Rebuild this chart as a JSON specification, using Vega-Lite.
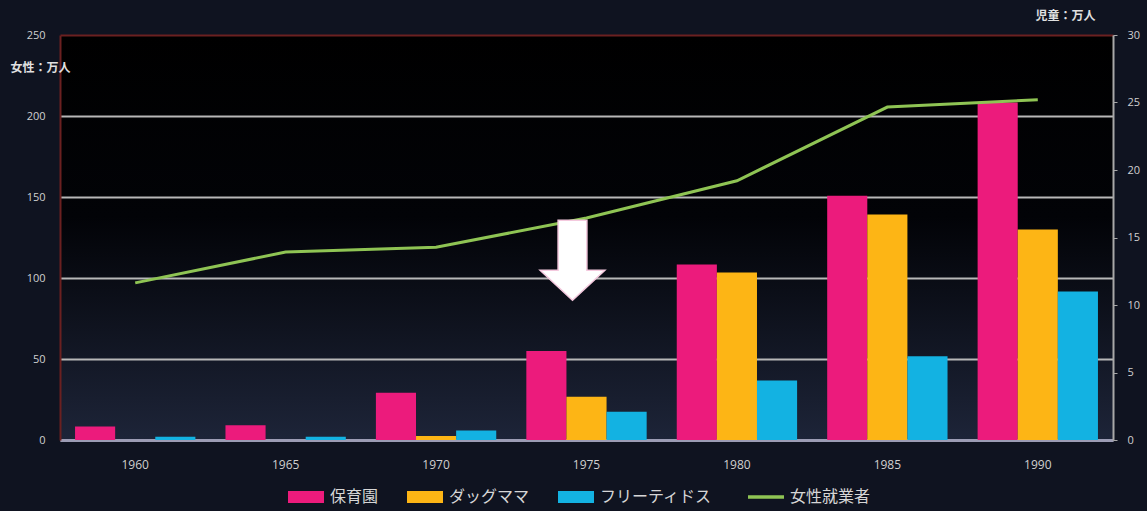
{
  "$schema": "https://vega.github.io/schema/vega-lite/v6.json",
  "width": 1053,
  "height": 405,
  "autosize": {"type": "none"},
  "padding": {"left": 60, "top": 35, "right": 34, "bottom": 71},
  "background": "#0f1320",
  "datasets": {
    "bars": [
      {"year": "1960", "series": "保育園", "value": 1.0},
      {"year": "1965", "series": "保育園", "value": 1.1},
      {"year": "1970", "series": "保育園", "value": 3.5},
      {"year": "1975", "series": "保育園", "value": 6.6},
      {"year": "1980", "series": "保育園", "value": 13.0},
      {"year": "1985", "series": "保育園", "value": 18.1},
      {"year": "1990", "series": "保育園", "value": 25.0},
      {"year": "1960", "series": "ダッグママ", "value": 0},
      {"year": "1965", "series": "ダッグママ", "value": 0},
      {"year": "1970", "series": "ダッグママ", "value": 0.3},
      {"year": "1975", "series": "ダッグママ", "value": 3.2},
      {"year": "1980", "series": "ダッグママ", "value": 12.4},
      {"year": "1985", "series": "ダッグママ", "value": 16.7},
      {"year": "1990", "series": "ダッグママ", "value": 15.6},
      {"year": "1960", "series": "フリーティドス", "value": 0.25},
      {"year": "1965", "series": "フリーティドス", "value": 0.25},
      {"year": "1970", "series": "フリーティドス", "value": 0.7},
      {"year": "1975", "series": "フリーティドス", "value": 2.1},
      {"year": "1980", "series": "フリーティドス", "value": 4.4},
      {"year": "1985", "series": "フリーティドス", "value": 6.2},
      {"year": "1990", "series": "フリーティドス", "value": 11.0}
    ],
    "women": [
      {"year": "1960", "series": "女性就業者", "value": 97},
      {"year": "1965", "series": "女性就業者", "value": 116},
      {"year": "1970", "series": "女性就業者", "value": 119},
      {"year": "1975", "series": "女性就業者", "value": 137},
      {"year": "1980", "series": "女性就業者", "value": 160},
      {"year": "1985", "series": "女性就業者", "value": 205.5},
      {"year": "1990", "series": "女性就業者", "value": 210}
    ],
    "marker": [
      {"year": "1975", "level": 111}
    ]
  },
  "layer": [
    {
      "data": {"name": "bars"},
      "mark": {"type": "bar"},
      "encoding": {
        "x": {
          "field": "year",
          "type": "ordinal",
          "scale": {"paddingInner": 0.2, "paddingOuter": 0.1},
          "axis": {
            "title": null,
            "labelAngle": 0,
            "domainColor": "#9c9cb4",
            "domainWidth": 3,
            "ticks": false,
            "labelPadding": 19,
            "labelColor": "#cfcfcf",
            "labelFontSize": 12,
            "labelFont": "Open Sans"
          }
        },
        "xOffset": {
          "field": "series",
          "type": "nominal",
          "sort": ["保育園", "ダッグママ", "フリーティドス"],
          "scale": {"paddingInner": 0, "paddingOuter": 0}
        },
        "y": {
          "field": "value",
          "type": "quantitative",
          "scale": {"domain": [0, 30], "nice": false},
          "axis": {
            "orient": "right",
            "values": [0, 5, 10, 15, 20, 25, 30],
            "grid": false,
            "domainColor": "#a8a8a8",
            "domainWidth": 2,
            "ticks": true,
            "tickColor": "#a8a8a8",
            "tickSize": 4,
            "labelPadding": 10,
            "labelColor": "#d0d0d0",
            "labelFontSize": 11,
            "labelFont": "Open Sans",
            "title": "児童：万人",
            "titleAngle": 0,
            "titleAlign": "right",
            "titleBaseline": "middle",
            "titleX": -18,
            "titleY": -20,
            "titleColor": "#e0e0e0",
            "titleFont": "Noto Sans CJK JP",
            "titleFontSize": 12,
            "titleFontWeight": "bold"
          }
        },
        "color": {
          "field": "series",
          "type": "nominal",
          "scale": {
            "domain": ["保育園", "ダッグママ", "フリーティドス", "女性就業者"],
            "range": ["#ec1b7c", "#fdb515", "#13b2e2", "#8fc454"]
          },
          "legend": {
            "orient": "none",
            "legendX": 238,
            "legendY": 454,
            "direction": "horizontal",
            "title": null,
            "padding": 0,
            "symbolType": "M-1,-0.33L1,-0.33L1,0.33L-1,0.33Z",
            "symbolSize": 1296,
            "symbolStrokeWidth": 0,
            "labelFont": "Noto Sans CJK JP",
            "labelFontSize": 16,
            "labelColor": "#d6d6d6",
            "labelOffset": 16,
            "columnPadding": 28,
            "encode": {
              "symbols": {
                "update": {
                  "shape": {"signal": "datum.value === '女性就業者' ? 'M-1,0L1,0' : 'M-1,-0.33L1,-0.33L1,0.33L-1,0.33Z'"},
                  "fill": {"signal": "datum.value === '女性就業者' ? 'transparent' : scale('color', datum.value)"},
                  "stroke": {"signal": "scale('color', datum.value)"},
                  "strokeWidth": {"signal": "datum.value === '女性就業者' ? 3.5 : 0"},
                  "opacity": {"value": 1}
                }
              }
            }
          }
        }
      }
    },
    {
      "data": {"name": "women"},
      "mark": {"type": "line", "strokeWidth": 3},
      "encoding": {
        "x": {"field": "year", "type": "ordinal"},
        "y": {
          "field": "value",
          "type": "quantitative",
          "scale": {"domain": [0, 250], "nice": false},
          "axis": {
            "orient": "left",
            "values": [0, 50, 100, 150, 200, 250],
            "grid": true,
            "gridColor": {"condition": {"test": "datum.value === 250", "value": "#6b2020"}, "value": "#b8b8b8"},
            "gridWidth": 2,
            "domainColor": "#6b2020",
            "domainWidth": 2,
            "ticks": false,
            "labelPadding": 15,
            "labelColor": "#d0d0d0",
            "labelFontSize": 11,
            "labelFont": "Open Sans",
            "title": "女性：万人",
            "titleAngle": 0,
            "titleAlign": "left",
            "titleBaseline": "middle",
            "titleX": -50,
            "titleY": 32,
            "titleColor": "#e0e0e0",
            "titleFont": "Noto Sans CJK JP",
            "titleFontSize": 12,
            "titleFontWeight": "bold"
          }
        },
        "color": {"field": "series", "type": "nominal"}
      }
    },
    {
      "data": {"name": "marker"},
      "mark": {
        "type": "point",
        "shape": "M-0.36,-1L0.36,-1L0.36,0.25L0.81,0.25L0,1L-0.81,0.25L-0.36,0.25Z",
        "filled": true,
        "fill": "#ffffff",
        "opacity": 1,
        "size": 6400,
        "xOffset": -14,
        "stroke": "#f4c9de",
        "strokeWidth": 1.5
      },
      "encoding": {
        "x": {"field": "year", "type": "ordinal"},
        "y": {
          "field": "level",
          "type": "quantitative",
          "scale": {"domain": [0, 250], "nice": false},
          "axis": null
        }
      }
    }
  ],
  "resolve": {"scale": {"y": "independent"}},
  "config": {
    "view": {
      "stroke": null,
      "fill": {
        "gradient": "linear",
        "x1": 0, "y1": 0, "x2": 0, "y2": 1,
        "stops": [
          {"offset": 0, "color": "#000000"},
          {"offset": 0.45, "color": "#020307"},
          {"offset": 1, "color": "#1d2438"}
        ]
      }
    }
  }
}
